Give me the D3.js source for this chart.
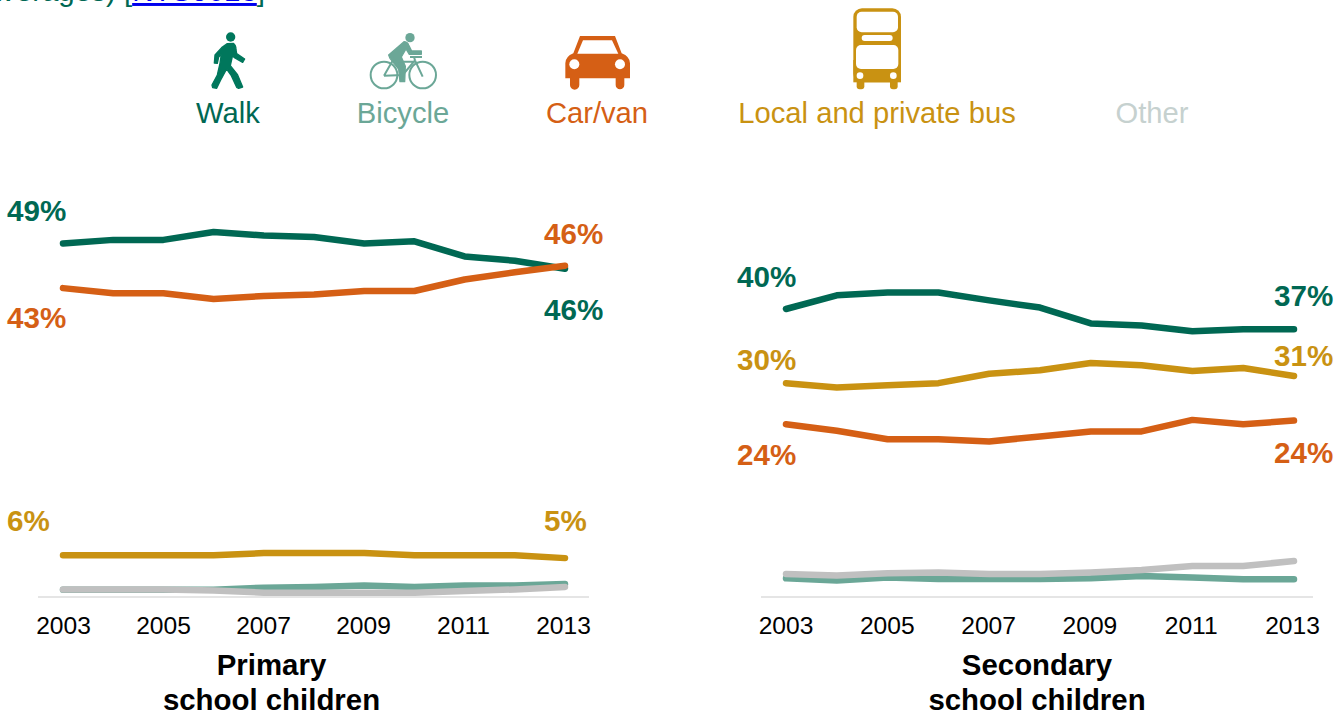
<!DOCTYPE html>
<html>
<head>
<meta charset="utf-8">
<script src="https://cdn.jsdelivr.net/npm/d3@7"></script>
<style>
html,body{margin:0;padding:0;background:#fff;overflow:hidden}
svg{display:block}
text{font-family:"Liberation Sans",Arial,sans-serif}
</style>
</head>
<body>
<svg id="chart" width="1342" height="716"></svg>
<script>
const years = [2003,2004,2005,2006,2007,2008,2009,2010,2011,2012,2013];
const tickYears = [2003,2005,2007,2009,2011,2013];
const modes = ["Walk","Bicycle","Car/van","Local and private bus","Other"];

const primaryWalk    = [49.1,49.6,49.6,50.7,50.2,50.0,49.1,49.4,47.3,46.7,45.6];
const primaryBicycle = [1.0,1.0,1.0,1.0,1.3,1.4,1.6,1.4,1.6,1.6,1.8];
const primaryCar     = [42.9,42.2,42.2,41.4,41.8,42.0,42.5,42.5,44.1,45.1,46.0];
const primaryBus     = [5.8,5.8,5.8,5.8,6.1,6.1,6.1,5.8,5.8,5.8,5.4];
const primaryOther   = [1.05,1.05,1.05,0.9,0.6,0.6,0.6,0.6,0.85,1.05,1.4];

const secondaryWalk    = [40.0,41.9,42.3,42.3,41.2,40.2,38.0,37.7,36.9,37.2,37.2];
const secondaryBicycle = [2.6,2.3,2.7,2.5,2.5,2.5,2.6,2.9,2.7,2.45,2.45];
const secondaryCar     = [24.0,23.1,21.9,21.9,21.6,22.3,23.0,23.0,24.6,24.0,24.5];
const secondaryBus     = [29.7,29.1,29.4,29.7,31.0,31.5,32.5,32.2,31.4,31.8,30.7];
const secondaryOther   = [3.2,3.0,3.3,3.4,3.2,3.2,3.4,3.75,4.3,4.3,5.0];

const primaryStartLabels   = ["49%",null,"43%","6%",null];
const primaryEndLabels     = ["46%",null,"46%","5%",null];
const secondaryStartLabels = ["40%",null,"24%","30%",null];
const secondaryEndLabels   = ["37%",null,"24%","31%",null];

const colors = {"Walk":"#006853","Bicycle":"#6ba797","Car/van":"#d55f15","Local and private bus":"#c99212","Other":"#c0c0c0"};
const legendTextColors = {"Walk":"#006853","Bicycle":"#6ba797","Car/van":"#d55f15","Local and private bus":"#c99212","Other":"#c6d1cf"};
const walkIconColor = "#00775c";

const svg = d3.select("#chart");

// note above the chart, cut by the top edge as in the reference
const note = svg.append("text").attr("x",265).attr("y",1).attr("text-anchor","end")
  .attr("font-size",29.5).attr("fill","#006853");
note.append("tspan").text("averages) [");
note.append("tspan").attr("fill","#0000ee").attr("text-decoration","underline").text("NTS0613");
note.append("tspan").text("]");

// legend
const legendX = [228,403,597,877,1152];
svg.selectAll("text.legend").data(modes).join("text").attr("class","legend")
  .attr("x",(d,i)=>legendX[i]).attr("y",123).attr("text-anchor","middle")
  .attr("font-size",29.2)
  .attr("fill",d=>legendTextColors[d]).text(d=>d);

function walkIcon(g,c){
  g.append("circle").attr("cx",122).attr("cy",36).attr("r",14).attr("fill",c);
  g.append("path").attr("fill",c).attr("stroke",c).attr("stroke-width",4).attr("stroke-linejoin","round")
   .attr("d","M112 56 L130 55 Q138 60 138 74 L140 86 L164 102 L158 112 L132 97 L128 90 L121 122 L142 148 L158 186 L146 190 L140 187 L124 152 L110 132 L92 165 L80 190 L68 188 L66 180 L82 150 L90 115 L94 88 L86 96 L82 115 L73 114 L75 90 L95 68 Z");
}
function bikeIcon(g,c){
  g.append("circle").attr("cx",150).attr("cy",38).attr("r",14).attr("fill",c);
  g.selectAll("circle.w").data([72,188]).join("circle").attr("class","w")
   .attr("cx",d=>d).attr("cy",150).attr("r",40).attr("fill","none").attr("stroke",c).attr("stroke-width",6);
  g.append("path").attr("fill",c).attr("stroke",c).attr("stroke-width",4).attr("stroke-linejoin","round")
   .attr("d","M132 50 Q142 50 146 60 L155 78 L184 78 L184 88 L148 88 L138 72 L124 96 L136 124 L134 170 L120 170 L116 132 L90 100 L86 90 Z");
  g.append("path").attr("fill","none").attr("stroke",c).attr("stroke-width",6)
   .attr("d","M72 152 L102 100 L128 150 L72 152 M128 150 L165 106 L188 155 M106 110 L165 110 M150 96 L186 96 M165 106 L162 96");
}
function carIcon(g,c){
  g.append("path").attr("fill",c)
   .attr("d","M75 33 L180 33 L200 85 Q225 95 225 115 L225 160 L208 160 L208 180 A13 13 0 0 1 182 180 L182 160 L73 160 L73 180 A14 14 0 0 1 45 180 L45 160 L31 160 L31 115 Q31 95 55 85 Z");
  g.append("path").attr("fill","#fff").attr("d","M84 46 L171 46 L190 86 L67 86 Z");
  g.selectAll("circle").data([58,195]).join("circle").attr("cx",d=>d).attr("cy",118).attr("r",15).attr("fill","#fff");
}
function busIcon(g,c){
  g.append("rect").attr("x",40).attr("y",25).attr("width",143).attr("height",222).attr("rx",26).attr("fill",c);
  g.append("rect").attr("x",40).attr("y",180).attr("width",143).attr("height",67).attr("fill",c);
  g.selectAll("rect.t").data([50,150]).join("rect").attr("class","t").attr("x",d=>d).attr("y",235).attr("width",23).attr("height",33).attr("rx",9).attr("fill",c);
  [[50,35,124,62,15],[65,105,93,18,9],[48,135,127,72,15]].forEach(r=>{
    g.append("rect").attr("x",r[0]).attr("y",r[1]).attr("width",r[2]).attr("height",r[3]).attr("rx",r[4]).attr("fill","#fff");
  });
  g.selectAll("circle").data([60,160]).join("circle").attr("cx",d=>d).attr("cy",227).attr("r",10).attr("fill","#fff");
}
walkIcon(svg.append("g").attr("transform","translate(190,25) scale(0.3333)"),walkIconColor);
bikeIcon(svg.append("g").attr("transform","translate(360,25) scale(0.3333)"),colors["Bicycle"]);
carIcon(svg.append("g").attr("transform","translate(555,25) scale(0.3333)"),colors["Car/van"]);
busIcon(svg.append("g").attr("transform","translate(840,0) scale(0.3333)"),colors["Local and private bus"]);

// panels
const y = d3.scaleLinear().domain([0,50]).range([597,237]);
const panels = [
  {title:["Primary","school children"], cx:271.5, x0:63, x1:565, tick0:63, tick1:563, axisL:38, axisR:589,
   series:[primaryWalk,primaryBicycle,primaryCar,primaryBus,primaryOther],
   start:primaryStartLabels, end:primaryEndLabels, startX:7, endX:544,
   startDy:[-22,0,40,-24,0], endDy:[51,0,-22,-27,0]},
  {title:["Secondary","school children"], cx:1037, x0:786, x1:1294, tick0:785.5, tick1:1292, axisL:761, axisR:1313,
   series:[secondaryWalk,secondaryBicycle,secondaryCar,secondaryBus,secondaryOther],
   start:secondaryStartLabels, end:secondaryEndLabels, startX:737, endX:1274,
   startDy:[-22,0,41,-13,0], endDy:[-23,0,42,-10,0]}
];
const order = [1,4,3,0,2];
panels.forEach(p=>{
  const x = d3.scaleLinear().domain([2003,2013]).range([p.x0,p.x1]);
  const xTick = d3.scaleLinear().domain([2003,2013]).range([p.tick0,p.tick1]);
  const line = d3.line().x((d,i)=>x(years[i])).y(d=>y(d));
  const g = svg.append("g");
  g.append("line").attr("x1",p.axisL).attr("x2",p.axisR).attr("y1",y(0)).attr("y2",y(0))
    .attr("stroke","#dddddd").attr("stroke-width",1.5);
  const ax = g.append("g").attr("transform",`translate(0,${y(0)})`)
    .call(d3.axisBottom(xTick).tickValues(tickYears).tickFormat(d3.format("d")).tickSize(0).tickPadding(20));
  ax.select(".domain").remove();
  ax.selectAll("text").attr("font-size",24.6).attr("font-family",'"Liberation Sans",Arial,sans-serif').attr("fill","#000");
  order.forEach(i=>{
    g.append("path").datum(p.series[i]).attr("d",line).attr("fill","none")
      .attr("stroke",colors[modes[i]]).attr("stroke-width",6.5)
      .attr("stroke-linecap","round").attr("stroke-linejoin","round");
  });
  modes.forEach((m,i)=>{
    if(p.start[i]) g.append("text").attr("x",p.startX).attr("y",y(p.series[i][0])+p.startDy[i])
      .attr("font-size",29.6).attr("font-weight","bold").attr("fill",colors[m]).text(p.start[i]);
    if(p.end[i]) g.append("text").attr("x",p.endX).attr("y",y(p.series[i][10])+p.endDy[i])
      .attr("font-size",29.6).attr("font-weight","bold").attr("fill",colors[m]).text(p.end[i]);
  });
  p.title.forEach((t,i)=>{
    g.append("text").attr("x",p.cx).attr("y",675+i*35).attr("text-anchor","middle")
      .attr("font-size",29.4).attr("font-weight","bold").attr("fill","#000").text(t);
  });
});
</script>
</body>
</html>
